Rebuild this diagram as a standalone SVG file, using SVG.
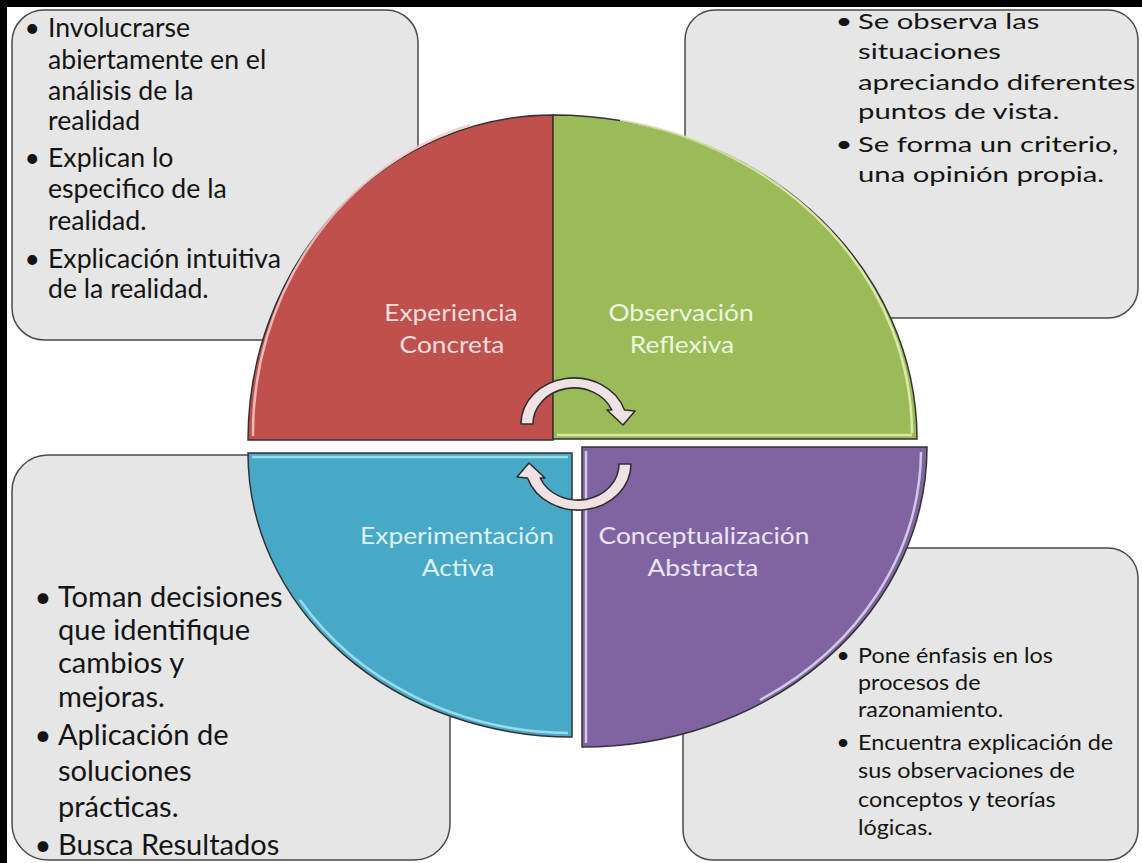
<svg xmlns="http://www.w3.org/2000/svg" xmlns:xlink="http://www.w3.org/1999/xlink" width="1142" height="863" viewBox="0 0 1142 863">
<defs>
<style>
.box{fill:#E6E6E6;stroke:#4a4a4a;stroke-width:1.5}
.t{font-family:Lato,"Open Sans","Noto Sans",sans-serif;fill:#141414}
.tl{font-size:26px}
.tr{font-size:22px}
.bl{font-size:28.5px}
.br{font-size:20.5px}
.lab{font-family:Lato,"Open Sans","Noto Sans",sans-serif;font-size:22.5px;text-anchor:middle}
.q{stroke:#333;stroke-width:1.5}
.hl{fill:none;stroke-width:2.5;opacity:0.85}
.arrow{fill:#F0E2E3;stroke:#2f2f2f;stroke-width:1.6;stroke-linejoin:round}
</style>
<path id="arr" d="M521,424 A53,46 0 0 1 624.5,410 L635,411 L623,425 L607,410 L611.8,410 A41,36 0 0 0 533,424 Z"/>
</defs>
<rect x="0" y="0" width="1142" height="863" fill="#ffffff"/>
<rect x="0" y="0" width="1142" height="7" fill="#000"/>
<rect x="0" y="0" width="7" height="863" fill="#000"/>

<g id="box-tl">
<rect class="box" x="12" y="10" width="406" height="330" rx="32"/>
<g transform="matrix(1.025,0,0,1,-1.2,0)">
<text class="t tl" x="25" y="37">•</text>
<text class="t tl" x="48" y="37">Involucrarse</text>
<text class="t tl" x="48" y="69">abiertamente en el</text>
<text class="t tl" x="48" y="100">análisis de la</text>
<text class="t tl" x="48" y="130">realidad</text>
<text class="t tl" x="25" y="167">•</text>
<text class="t tl" x="48" y="167">Explican lo</text>
<text class="t tl" x="48" y="198">especifico de la</text>
<text class="t tl" x="48" y="230">realidad.</text>
<text class="t tl" x="25" y="268">•</text>
<text class="t tl" x="48" y="268">Explicación intuitiva</text>
<text class="t tl" x="48" y="298">de la realidad.</text>
</g>
</g>

<g id="box-tr">
<rect class="box" x="685" y="10" width="453" height="308" rx="30"/>
<g transform="matrix(1.33,0,0,1,-283.1,0)">
<text class="t tr" x="841" y="29">•</text>
<text class="t tr" x="858" y="29">Se observa las</text>
<text class="t tr" x="858" y="59">situaciones</text>
<text class="t tr" x="858" y="90">apreciando diferentes</text>
<text class="t tr" x="858" y="119">puntos de vista.</text>
<text class="t tr" x="841" y="152">•</text>
<text class="t tr" x="858" y="152">Se forma un criterio,</text>
<text class="t tr" x="858" y="182">una opinión propia.</text>
</g>
</g>

<g id="box-bl">
<rect class="box" x="12" y="455" width="438" height="405" rx="36"/>
<g transform="matrix(1.02,0,0,1,-1.2,0)">
<text class="t bl" x="35" y="607">•</text>
<text class="t bl" x="58" y="607">Toman decisiones</text>
<text class="t bl" x="58" y="640">que identifique</text>
<text class="t bl" x="58" y="673">cambios y</text>
<text class="t bl" x="58" y="707">mejoras.</text>
<text class="t bl" x="35" y="745">•</text>
<text class="t bl" x="58" y="745">Aplicación de</text>
<text class="t bl" x="58" y="781">soluciones</text>
<text class="t bl" x="58" y="817">prácticas.</text>
<text class="t bl" x="35" y="855">•</text>
<text class="t bl" x="58" y="855">Busca Resultados</text>
</g>
</g>

<g id="box-br">
<rect class="box" x="683" y="548" width="455" height="312" rx="30"/>
<g transform="matrix(1.14,0,0,1,-120.1,0)">
<text class="t br" x="839" y="663">•</text>
<text class="t br" x="858" y="663">Pone énfasis en los</text>
<text class="t br" x="858" y="690">procesos de</text>
<text class="t br" x="858" y="717">razonamiento.</text>
<text class="t br" x="839" y="750">•</text>
<text class="t br" x="858" y="750">Encuentra explicación de</text>
<text class="t br" x="858" y="778">sus observaciones de</text>
<text class="t br" x="858" y="807">conceptos  y teorías</text>
<text class="t br" x="858" y="835">lógicas.</text>
</g>
</g>

<g id="q-experiencia">
<path class="q" fill="#C0504D" d="M553,440 L248,440 A305,325 0 0 1 553,115 Z"/>
<path class="hl" stroke="#F4C9C8" d="M253,436 A300,321 0 0 1 470,125"/>
<text class="lab" fill="#F6DEDD" transform="translate(451,321) scale(1.17,1)">Experiencia</text>
<text class="lab" fill="#F6DEDD" transform="translate(452,353) scale(1.17,1)">Concreta</text>
</g>

<g id="q-observacion">
<path class="q" fill="#9BBB59" d="M553,439 L553,115 A364,324 0 0 1 917,439 Z"/>
<path class="hl" stroke="#E6F2B8" d="M557,435 L912,435 M620,120 A360,320 0 0 1 912,433"/>
<text class="lab" fill="#EEF5DD" transform="translate(681,321) scale(1.17,1)">Observación</text>
<text class="lab" fill="#EEF5DD" transform="translate(682,353) scale(1.17,1)">Reflexiva</text>
</g>

<g id="q-experimentacion">
<path class="q" fill="#47A9C6" d="M572,453 L248,453 A324,284 0 0 0 572,737 Z"/>
<path class="hl" stroke="#A8E4F2" d="M252,457 L568,457 M300,600 A320,280 0 0 0 568,733"/>
<text class="lab" fill="#DDF1F7" transform="translate(457,544) scale(1.17,1)">Experimentación</text>
<text class="lab" fill="#DDF1F7" transform="translate(458,576) scale(1.17,1)">Activa</text>
</g>

<g id="q-conceptualizacion">
<path class="q" fill="#8064A2" d="M582,447 L927,447 A345,300 0 0 1 582,747 Z"/>
<path class="hl" stroke="#E2D8F0" d="M586,451 L586,743 M921,452 A340,295 0 0 1 760,700"/>
<text class="lab" fill="#EAE4F2" transform="translate(704,544) scale(1.17,1)">Conceptualización</text>
<text class="lab" fill="#EAE4F2" transform="translate(703,576) scale(1.17,1)">Abstracta</text>
</g>

<g id="connectors">
<use xlink:href="#arr" class="arrow"/>
<use xlink:href="#arr" class="arrow" transform="rotate(180 576 444)"/>
</g>
</svg>
